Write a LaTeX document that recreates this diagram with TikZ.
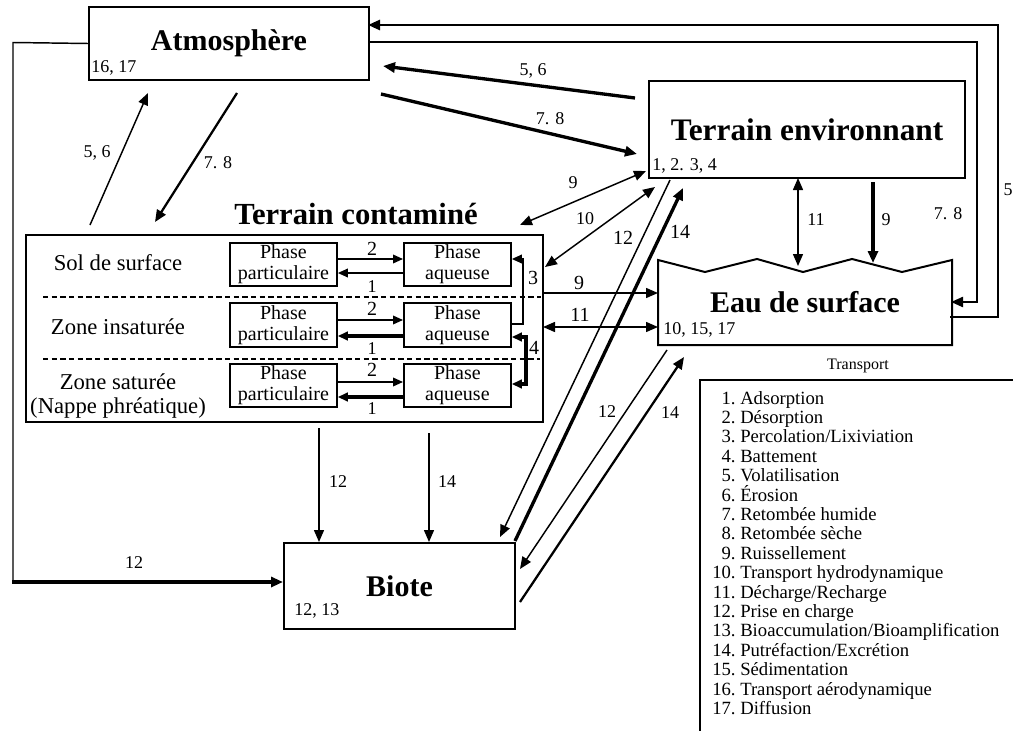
\documentclass[tikz,border=0pt]{standalone}
\usepackage{fontspec}
\setmainfont{Liberation Serif}
\usetikzlibrary{arrows.meta,calc}
\begin{document}
\begin{tikzpicture}[x=0.75pt,y=-0.75pt,
  >={Triangle[length=9pt,width=7.5pt]},
  box/.style={draw, line width=1.5pt, inner sep=0pt, anchor=north west},
  ttl/.style={font=\fontsize{22.5}{26}\selectfont\bfseries},
  lab/.style={font=\fontsize{13.5}{15}\selectfont, inner sep=0pt},
  mid/.style={font=\fontsize{15}{17}\selectfont, inner sep=0pt},
  zone/.style={font=\fontsize{17}{18.5}\selectfont, inner sep=0pt, align=center},
  phase/.style={box, line width=1.4pt, minimum width=107*0.75pt, minimum height=43*0.75pt, align=center, font=\fontsize{15}{15.5}\selectfont},
  leg/.style={font=\fontsize{14}{15}\selectfont, inner sep=0pt, anchor=base west},
  cn/.style={line width=1.1pt},
  cnm/.style={line width=1.7pt},
  cnk/.style={line width=2.5pt},
  st/.style={-{Triangle[length=7.5pt,width=6.5pt]}},
  dst/.style={{Triangle[length=7.5pt,width=6.5pt]}-{Triangle[length=7.5pt,width=6.5pt]}},
]
\useasboundingbox (0,0) rectangle (1013,731);
\fill[white] (0,0) rectangle (1013,731);

% main boxes
\node[box, ttl, minimum width=280*0.75pt, minimum height=73*0.75pt] (atm) at (88,6) {Atmosphère};
\node[box, ttl, font=\fontsize{23.5}{26}\selectfont\bfseries, minimum width=316*0.75pt, minimum height=97*0.75pt] (te) at (648,80) {Terrain environnant};
\node[box, minimum width=517*0.75pt, minimum height=187*0.75pt] (tc) at (25,234) {};
\node[ttl, font=\fontsize{23}{26}\selectfont\bfseries] (tct) at (356,214) {Terrain contaminé};
\node[box, ttl, minimum width=231*0.75pt, minimum height=86*0.75pt] (bio) at (283,542) {Biote};
\node[box, draw=none, ttl, minimum width=292*0.75pt, minimum height=83*0.75pt] (eau) at (658,260) {Eau de surface};
\draw[line width=1.5pt] (eau.south west) -- (eau.north west) -- (705,272) -- (757,259) -- (803,272) -- (852,259) -- (902,272) -- (eau.north east) -- (eau.south east) -- cycle;

% sub labels
\node[lab, anchor=west] (atml) at (91,68) {16, 17};
\node[lab, anchor=west] (tel) at (652,166) {1, 2. 3, 4};
\node[lab, anchor=west] (eaul) at (663,330) {10, 15, 17};
\node[lab, anchor=west] (biol) at (294,611) {12, 13};

% zones
\node[zone] (z1) at (118,263) {Sol de surface};
\node[zone] (z2) at (118,327) {Zone insaturée};
\node[zone] (z3) at (118,396) {Zone saturée\\(Nappe phréatique)};
\coordinate (d1l) at (43,297); \coordinate (d1r) at (541,297);
\coordinate (d2l) at (43,359); \coordinate (d2r) at (540,359);
\draw[line width=1.1pt, dash pattern=on 4pt off 2.5pt] (d1l) -- (d1r);
\draw[line width=1.1pt, dash pattern=on 4pt off 2.5pt] (d2l) -- (d2r);

% phase boxes
\node[phase] (p1) at (229,242) {Phase\\particulaire};
\node[phase] (a1) at (403,242) {Phase\\aqueuse};
\node[phase, minimum height=44*0.75pt] (p2) at (229,302) {Phase\\particulaire};
\node[phase, minimum height=44*0.75pt] (a2) at (403,302) {Phase\\aqueuse};
\node[phase] (p3) at (229,363) {Phase\\particulaire};
\node[phase] (a3) at (403,363) {Phase\\aqueuse};

\draw[cn, st] ($(p1.north east)+(0,17)$) -- ($(a1.north west)+(0,17)$);
\draw[cn, st] ($(a1.north west)+(0,31)$) -- ($(p1.north east)+(0,31)$);
\draw[cn, st] ($(p2.north east)+(0,18)$) -- ($(a2.north west)+(0,18)$);
\draw[cnk, st] ($(a2.north west)+(0,34)$) -- ($(p2.north east)+(0,34)$);
\draw[cn, st] ($(p3.north east)+(0,19)$) -- ($(a3.north west)+(0,19)$);
\draw[cnk, st] ($(a3.north west)+(0,34)$) -- ($(p3.north east)+(0,34)$);
\node[mid] (l2a) at (372,249) {2};
\node[mid] (l2b) at (372,309) {2};
\node[mid] (l2c) at (372,370) {2};
\node[lab] (l1a) at (372,287) {1};
\node[lab] (l1b) at (372,349) {1};
\node[lab] (l1c) at (372,409) {1};

% percolation / battement
\coordinate (b3) at (523,259);
\draw[cn, st] ($(a2.north east)+(0,22)$) -| (b3) -- ($(a1.north east)+(0,17)$);
\coordinate (b4) at (526,384);
\draw[cnk, dst] ($(a2.north east)+(0,35)$) -| (b4) -- ($(a3.north east)+(0,21)$);
\node[mid] (l3) at (533,278) {3};
\node[mid] (l4) at (534,348) {4};

% long line atmosphere -> biote
\coordinate (cl1) at (13,42.5);
\coordinate (cl2) at (13,582);
\coordinate (cl3) at (283,582);
\draw[cn] (atm.west) -- (cl1) -- (cl2);
\draw[cnk, ->] ($(cl2)+(-1,0)$) -- (cl3);
\node[lab] (l12l) at (134,563) {12};

% atmosphere <-> terrain contamine
\coordinate (c56a) at (90,225); \coordinate (c56b) at (148,93);
\draw[cn, ->] (c56a) -- (c56b);
\node[lab] (l56a) at (97,153) {5, 6};
\coordinate (c78a) at (237,93); \coordinate (c78b) at (155,222);
\draw[cnm, ->] (c78a) -- (c78b);
\node[lab] (l78a) at (218,163) {7. 8};

% atmosphere <-> terrain environnant
\coordinate (t56a) at (635,98); \coordinate (t56b) at (383,66);
\draw[cnk, ->] (t56a) -- (t56b);
\node[lab] (l56b) at (533,71) {5, 6};
\coordinate (t78a) at (381,94); \coordinate (t78b) at (637,154);
\draw[cnk, ->] (t78a) -- (t78b);
\node[lab] (l78b) at (550,119) {7. 8};

% outer loops
\coordinate (o5a) at (950,317); \coordinate (o5b) at (998,317);
\coordinate (o5c) at (998,25); \coordinate (o5d) at (368,25);
\draw[line width=2pt, ->] (o5a) -- (o5b) -- (o5c) -- (o5d);
\node[lab] (l5) at (1008,190) {5};
\coordinate (o7a) at (368,42); \coordinate (o7b) at (977,42);
\coordinate (o7c) at (977,302); \coordinate (o7d) at (951,302);
\draw[cnm, ->] (o7a) -- (o7b) -- (o7c) -- (o7d);
\node[lab] (l78c) at (948,214) {7. 8};

% terrain environnant <-> terrain contamine
\coordinate (e9a) at (646,171); \coordinate (e9b) at (520,225);
\draw[cn, <->] (e9a) -- (e9b);
\node[lab] (l9a) at (573,183) {9};
\coordinate (e10a) at (655,187); \coordinate (e10b) at (545,267);
\draw[cn, <->] (e10a) -- (e10b);
\node[lab] (l10) at (585,219) {10};

% terrain environnant <-> biote
\coordinate (e12a) at (670,180); \coordinate (e12b) at (500,537);
\draw[cn, ->] (e12a) -- (e12b);
\node[mid] (l12a) at (623,238) {12};
\coordinate (e14a) at (515,541); \coordinate (e14b) at (683,188);
\draw[cnk, ->] (e14a) -- (e14b);
\node[mid] (l14a) at (680,232) {14};

% terrain environnant <-> eau
\coordinate (e11a) at (798,178); \coordinate (e11b) at (798,266);
\draw[cn, <->] (e11a) -- (e11b);
\node[lab] (l11a) at (816,220) {11};
\coordinate (e9c) at (873,182); \coordinate (e9d) at (873,263);
\draw[cnk, ->] (e9c) -- (e9d);
\node[lab] (l9b) at (886,220) {9};

% terrain contamine <-> eau
\coordinate (h9a) at (543,293); \coordinate (h9b) at (658,293);
\draw[cn, ->] (h9a) -- (h9b);
\node[mid] (l9c) at (579,283) {9};
\coordinate (h11a) at (543,327); \coordinate (h11b) at (658,327);
\draw[cn, <->] (h11a) -- (h11b);
\node[mid] (l11b) at (580,315) {11};

% eau <-> biote
\coordinate (w12a) at (667,350); \coordinate (w12b) at (520,569);
\draw[cn, ->] (w12a) -- (w12b);
\node[lab] (l12b) at (607,412) {12};
\coordinate (w14a) at (520,602); \coordinate (w14b) at (684,357);
\draw[cnm, ->] (w14a) -- (w14b);
\node[lab] (l14b) at (670,413) {14};

% terrain contamine -> biote
\coordinate (v12a) at (319,428); \coordinate (v12b) at (319,542);
\draw[cn, ->] (v12a) -- (v12b);
\node[lab] (l12c) at (338,482) {12};
\coordinate (v14a) at (429,433); \coordinate (v14b) at (429,542);
\draw[cn, ->] (v14a) -- (v14b);
\node[lab] (l14c) at (447,482) {14};

% legend
\node[font=\fontsize{12}{13}\selectfont, inner sep=0pt] (legt) at (858,366) {Transport};
\node[box, minimum width=330*0.75pt, minimum height=370*0.75pt] (legbox) at (699,379) {};
\foreach \t [count=\i] in {Adsorption, Désorption, Percolation/Lixiviation, Battement, Volatilisation, Érosion, Retombée humide, Retombée sèche, Ruissellement, Transport hydrodynamique, Décharge/Recharge, Prise en charge, Bioaccumulation/Bioamplification, Putréfaction/Excrétion, Sédimentation, Transport aérodynamique, Diffusion}
  \node[leg] (leg\i) at (712, {404+19.4*(\i-1)}) {\makebox[1.25em][r]{\i.}\ \t};
\end{tikzpicture}
\end{document}
